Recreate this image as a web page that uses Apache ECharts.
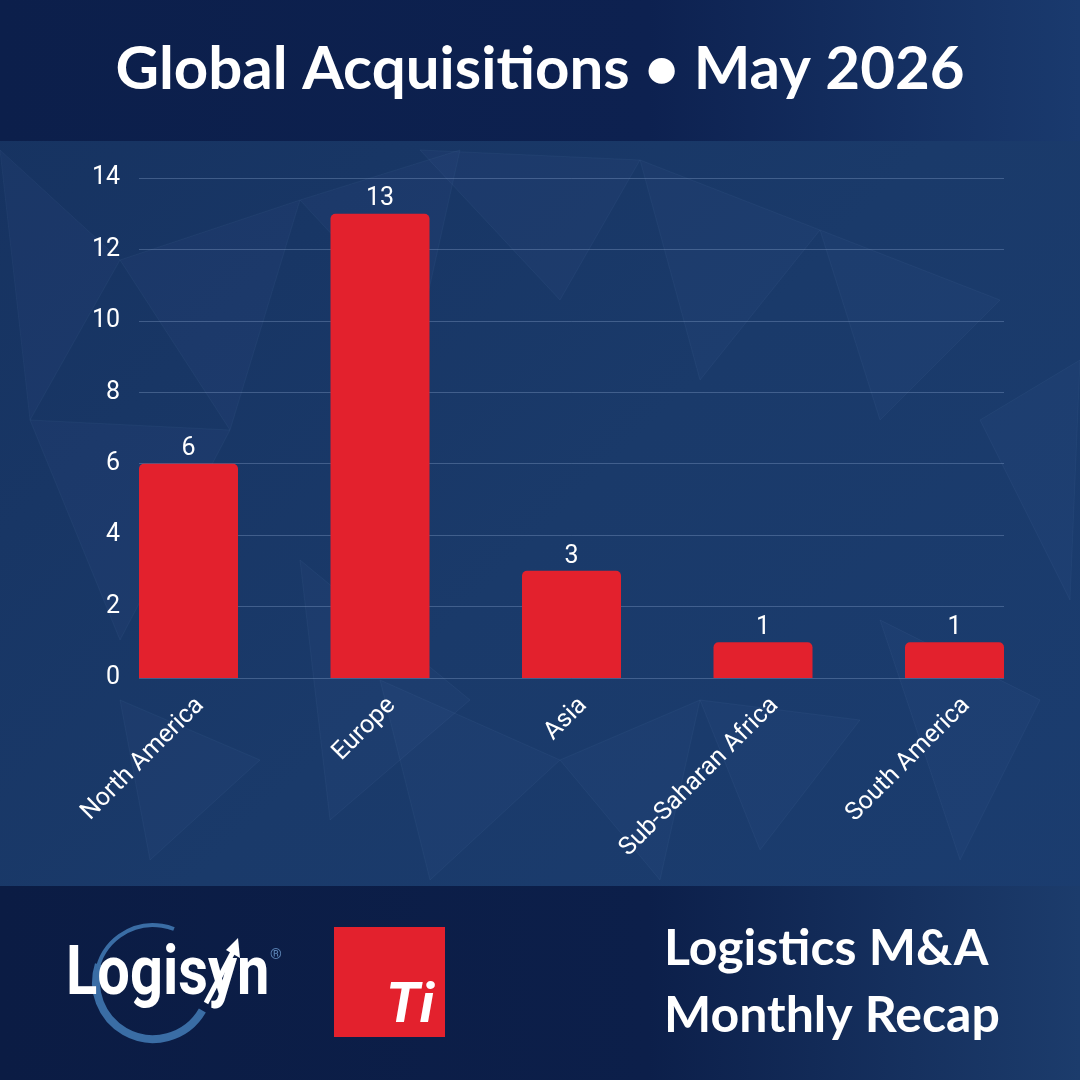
<!DOCTYPE html>
<html>
<head>
<meta charset="utf-8">
<title>Global Acquisitions</title>
<script src="https://cdn.jsdelivr.net/npm/echarts@6/dist/echarts.min.js"></script>
<style>
  html, body { margin: 0; padding: 0; background: #15305d; }
  #chart { width: 1080px; height: 1080px; }
</style>
</head>
<body>
<div id="chart"></div>
<script>
// data
const regions = ['North America', 'Europe', 'Asia', 'Sub-Saharan Africa', 'South America']
const acquisitions = [6, 13, 3, 1, 1]
const yTicks = [0, 2, 4, 6, 8, 10, 12, 14]

const titleText = 'Global Acquisitions \u2022 May 2026'
const recapLines = ['Logistics M&A', 'Monthly Recap']

const RED = '#e3212d'
const FONT = 'Roboto, "Noto Sans", sans-serif'
const HEAD_FONT = 'Lato, "Noto Sans", sans-serif'

// plot box (gridlines run from first bar's left edge to last bar's right edge)
const plotTop = 178
const plotBottom = 678
const lineLeft = 139
const lineRight = 1004
const barW = 99
const step = (lineRight - lineLeft - barW) / (regions.length - 1)

const chart = echarts.init(document.getElementById('chart'), null, { renderer: 'canvas' })

// some faint low-poly shapes for the background texture
const shards = [
  [[0, 150], [120, 260], [30, 420]],
  [[120, 260], [300, 200], [230, 430]],
  [[300, 200], [460, 150], [420, 330]],
  [[420, 150], [640, 160], [560, 300]],
  [[640, 160], [820, 230], [700, 380]],
  [[820, 230], [1000, 300], [880, 420]],
  [[980, 420], [1080, 360], [1070, 600]],
  [[30, 420], [230, 430], [120, 640]],
  [[300, 560], [470, 700], [330, 820]],
  [[380, 680], [560, 760], [430, 880]],
  [[560, 760], [700, 700], [660, 880]],
  [[700, 700], [860, 720], [760, 850]],
  [[120, 700], [260, 760], [150, 860]],
  [[880, 620], [1040, 700], [960, 860]]
]

const graphics = [
  // header band
  {
    type: 'rect', z: -5, silent: true,
    shape: { x: 0, y: 0, width: 1080, height: 141 },
    style: { fill: new echarts.graphic.LinearGradient(0, 0, 1, 0, [
      { offset: 0, color: '#0c1f4b' }, { offset: 0.6, color: '#0d2150' }, { offset: 1, color: '#1a3a6e' }
    ]) }
  },
  // footer band
  {
    type: 'rect', z: -5, silent: true,
    shape: { x: 0, y: 886, width: 1080, height: 194 },
    style: { fill: new echarts.graphic.LinearGradient(0, 0, 1, 0, [
      { offset: 0, color: '#0b1c44' }, { offset: 0.6, color: '#0c1f4a' }, { offset: 1, color: '#1c3c6c' }
    ]) }
  },
  {
    type: 'text', left: 'center', top: 40,
    style: { text: titleText, fill: '#fff', font: 'bold 60px ' + HEAD_FONT }
  },
  // Logisyn logo: thick lower swoosh, thin upper swoosh
  {
    type: 'arc', silent: true,
    shape: { cx: 153, cy: 982, r: 57, startAngle: Math.PI / 6, endAngle: Math.PI * 1.1, clockwise: true },
    style: { stroke: '#3a6da5', lineWidth: 8, fill: null }
  },
  {
    type: 'arc', silent: true,
    shape: { cx: 153, cy: 982, r: 57, startAngle: Math.PI * 1.05, endAngle: Math.PI * 1.62, clockwise: true },
    style: { stroke: '#3a6da5', lineWidth: 4, fill: null }
  },
  {
    type: 'text', x: 66, y: 943, scaleX: 0.85,
    style: { text: 'Logisyn', fill: '#fff', font: 'bold 68px ' + FONT }
  },
  {
    type: 'line', silent: true,
    shape: { x1: 206, y1: 1003, x2: 234, y2: 950 },
    style: { stroke: '#fff', lineWidth: 5 }
  },
  {
    type: 'polygon', silent: true,
    shape: { points: [[238, 938], [240, 958], [226, 950]] },
    style: { fill: '#fff' }
  },
  {
    type: 'text', x: 270, y: 948,
    style: { text: '\u00ae', fill: '#5a82b3', font: '15px ' + FONT }
  },
  // Ti box
  {
    type: 'rect', shape: { x: 334, y: 927, width: 111, height: 110 },
    style: { fill: RED }
  },
  {
    type: 'text', x: 386, y: 980,
    style: { text: 'Ti', fill: '#fff', font: 'italic bold 56px ' + FONT }
  },
  // recap text
  {
    type: 'text', x: 664, y: 924,
    style: { text: recapLines[0], fill: '#fff', font: 'bold 50px ' + HEAD_FONT }
  },
  {
    type: 'text', x: 664, y: 991,
    style: { text: recapLines[1], fill: '#fff', font: 'bold 50px ' + HEAD_FONT }
  }
]

shards.forEach(function (pts) {
  graphics.push({
    type: 'polygon', z: -4, silent: true,
    shape: { points: pts },
    style: { fill: 'rgba(120,160,220,0.04)', stroke: 'rgba(150,190,240,0.05)', lineWidth: 1 }
  })
})

chart.setOption({
  backgroundColor: new echarts.graphic.LinearGradient(0, 0, 1, 1, [
    { offset: 0, color: '#163260' },
    { offset: 0.5, color: '#1a3a6a' },
    { offset: 1, color: '#1b3d70' }
  ]),
  animation: false,
  graphic: graphics,
  grid: [
    // grid for gridlines and y labels
    { left: lineLeft, width: lineRight - lineLeft, top: plotTop, height: plotBottom - plotTop },
    // grid for the bars, each category is one step wide
    { left: lineLeft + barW / 2 - step / 2, width: step * regions.length, top: plotTop, height: plotBottom - plotTop }
  ],
  xAxis: [
    { gridIndex: 0, type: 'category', data: regions, show: false },
    {
      gridIndex: 1, type: 'category', data: regions,
      axisLine: { show: false }, axisTick: { show: false },
      axisLabel: {
        interval: 0, rotate: 45, margin: 12, color: '#fff', fontSize: 25, fontFamily: FONT,
        verticalAlign: 'top', padding: [4, 0, 0, 0]
      }
    }
  ],
  yAxis: [
    {
      gridIndex: 0, type: 'value',
      min: yTicks[0], max: yTicks[yTicks.length - 1], interval: yTicks[1] - yTicks[0],
      axisLine: { show: false }, axisTick: { show: false },
      axisLabel: { color: '#fff', fontSize: 25, fontFamily: FONT, margin: 19 },
      splitLine: { lineStyle: { color: 'rgba(170,195,235,0.28)', width: 1 } }
    },
    {
      gridIndex: 1, type: 'value', show: false,
      min: yTicks[0], max: yTicks[yTicks.length - 1]
    }
  ],
  series: [{
    type: 'bar',
    xAxisIndex: 1,
    yAxisIndex: 1,
    data: acquisitions,
    barWidth: barW,
    itemStyle: { color: RED, borderRadius: [5, 5, 0, 0] },
    label: { show: true, position: 'top', distance: 2, color: '#fff', fontSize: 25, fontFamily: FONT }
  }]
})
</script>
</body>
</html>
